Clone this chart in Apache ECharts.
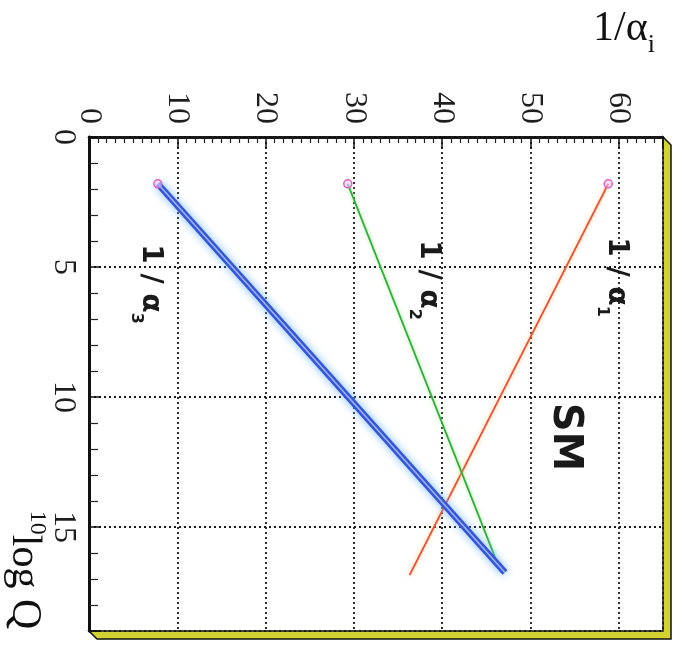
<!DOCTYPE html>
<html>
<head>
<meta charset="utf-8">
<script src="https://cdn.jsdelivr.net/npm/echarts@6/dist/echarts.min.js"></script>
<style>
  html, body { margin: 0; padding: 0; background: #fff; }
  #chart { width: 685px; height: 645px; }
</style>
</head>
<body>
<div id="chart"></div>
<script>
// Running inverse gauge couplings in the Standard Model: 1/alpha_i versus log10(Q)
const logQ1 = [1.8, 16.85];
const invAlpha1 = [58.8, 36.3];
const logQ2 = [1.8, 16.7];
const invAlpha2 = [29.3, 46.6];
const logQ3 = [1.8, 16.75];
const invAlpha3 = [7.8, 47.1];

const invAlphaRange = [0, 65];
const logQRange = [0, 19];

function pts(xs, ys, marker) {
  return xs.map((x, i) => ({
    value: [x, ys[i]],
    symbol: (marker && i === 0) ? 'circle' : 'none',
    symbolSize: 8
  }));
}

const chart = echarts.init(document.getElementById('chart'));
const serif = 'Liberation Serif';
const G = { left: 89, top: 137, right: 663, bottom: 631 };

const markerStyle = { color: 'rgba(255,200,245,0.55)', borderColor: '#e060c8', borderWidth: 1.5 };

chart.setOption({
  backgroundColor: '#ffffff',
  animation: false,
  grid: { left: G.left, top: G.top, right: 685 - G.right, bottom: 645 - G.bottom, containLabel: false },
  xAxis: [{
    type: 'value', position: 'top', min: invAlphaRange[0], max: invAlphaRange[1], interval: 10,
    axisLine: { show: true, lineStyle: { color: '#111', width: 2.5 } },
    axisTick: { show: true, inside: true, length: 11, lineStyle: { color: '#111', width: 1.5 } },
    minorTick: { show: true, splitNumber: 10, length: 6, lineStyle: { color: '#222', width: 1.2 } },
    splitLine: { show: true, lineStyle: { color: '#1a1a1a', width: 1.8, type: [2, 3] } },
    axisLabel: { rotate: -90, margin: 13, fontFamily: serif, fontSize: 32, color: '#1e1e1e', showMaxLabel: false }
  }, {
    type: 'value', position: 'bottom', min: invAlphaRange[0], max: invAlphaRange[1],
    axisLine: { show: true, lineStyle: { color: '#111', width: 2.5 } },
    axisTick: { show: false }, axisLabel: { show: false }, splitLine: { show: false }
  }],
  yAxis: [{
    type: 'value', position: 'left', inverse: true, min: logQRange[0], max: logQRange[1], interval: 5,
    axisLine: { show: true, lineStyle: { color: '#111', width: 3 } },
    axisTick: { show: true, inside: true, length: 12, lineStyle: { color: '#111', width: 1.5 } },
    minorTick: { show: true, splitNumber: 5, length: 9, lineStyle: { color: '#222', width: 1.2 } },
    splitLine: { show: true, lineStyle: { color: '#1a1a1a', width: 1.8, type: [2, 3] } },
    axisLabel: { rotate: -90, margin: 10, fontFamily: serif, fontSize: 32, color: '#1e1e1e', showMaxLabel: false }
  }, {
    type: 'value', position: 'right', inverse: true, min: logQRange[0], max: logQRange[1],
    axisLine: { show: true, lineStyle: { color: '#111', width: 2.5 } },
    axisTick: { show: false }, axisLabel: { show: false }, splitLine: { show: false }
  }],
  series: [
    {
      name: '1/α1', type: 'line', data: pts(invAlpha1, logQ1, true),
      lineStyle: { color: '#f04a3a', width: 1.8, shadowColor: 'rgba(255,200,110,0.95)', shadowBlur: 4 },
      itemStyle: markerStyle, z: 3
    },
    {
      name: '1/α2', type: 'line', data: pts(invAlpha2, logQ2, true),
      lineStyle: { color: '#2fae3e', width: 1.8, shadowColor: 'rgba(170,240,150,0.95)', shadowBlur: 4 },
      itemStyle: markerStyle, z: 3
    },
    {
      name: '1/α3', type: 'line', data: pts(invAlpha3, logQ3, true),
      lineStyle: { color: '#3456d6', width: 6.5, shadowColor: 'rgba(110,180,255,0.95)', shadowBlur: 8 },
      itemStyle: markerStyle, z: 4
    },
    {
      name: '1/α3 core', type: 'line', data: pts(invAlpha3, logQ3, false),
      lineStyle: { color: '#9fb2f2', width: 1.6 }, z: 5, silent: true
    }
  ],
  graphic: [
    {
      type: 'polygon', z: -1,
      shape: { points: [[G.right, G.top], [G.right + 8, G.top + 8], [G.right + 8, G.bottom + 8],
                        [G.left + 8, G.bottom + 8], [G.left, G.bottom], [G.right, G.bottom]] },
      style: { fill: '#d2d232', stroke: '#111', lineWidth: 1.5 }
    },
    {
      type: 'text', x: 593, y: 8,
      style: {
        text: '{m|1/α}{s|i}', fill: '#111',
        rich: {
          m: { fontFamily: serif, fontSize: 42, verticalAlign: 'top', lineHeight: 44 },
          s: { fontFamily: serif, fontSize: 26, verticalAlign: 'bottom', lineHeight: 50 }
        }
      }
    },
    {
      type: 'text', x: 26, y: 570, rotation: -Math.PI / 2,
      style: {
        text: '{s|10}{m|log Q}', fill: '#111', align: 'center', verticalAlign: 'middle',
        rich: {
          s: { fontFamily: serif, fontSize: 24, verticalAlign: 'top', lineHeight: 46 },
          m: { fontFamily: serif, fontSize: 42, verticalAlign: 'bottom', lineHeight: 46 }
        }
      }
    },
    {
      type: 'text', x: 564, y: 437, rotation: -Math.PI / 2,
      style: { text: 'SM', fill: '#1a1a1a', fontFamily: 'DejaVu Sans', fontWeight: 'bold', fontSize: 40,
               align: 'center', verticalAlign: 'middle' }
    },
    ...[['1', 612, 277], ['2', 424, 280], ['3', 146, 284]].map(([k, x, y]) => ({
      type: 'text', x: x, y: y, rotation: -Math.PI / 2,
      style: {
        text: '{m|1 / α}{s|' + k + '}', fill: '#1a1a1a', align: 'center', verticalAlign: 'middle',
        rich: {
          m: { fontFamily: 'DejaVu Sans', fontSize: 28, fontWeight: 'bold', verticalAlign: 'top', lineHeight: 32 },
          s: { fontFamily: 'DejaVu Sans', fontSize: 16, fontWeight: 'bold', verticalAlign: 'bottom', lineHeight: 36 }
        }
      }
    }))
  ]
});
</script>
</body>
</html>
